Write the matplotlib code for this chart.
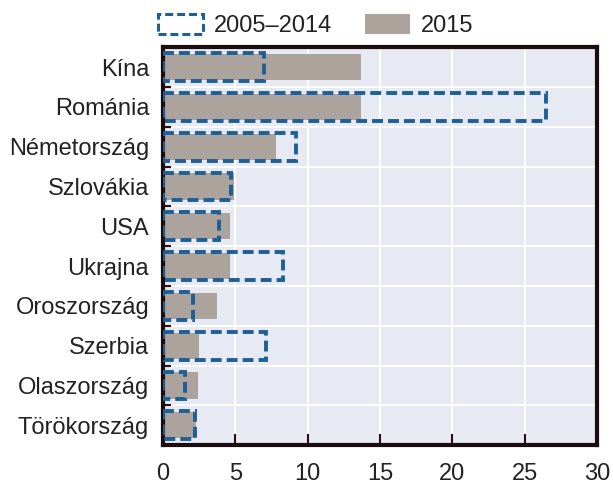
import matplotlib.pyplot as plt
from matplotlib.patches import Patch
import numpy as np

plt.rcParams['font.family'] = ['Liberation Sans', 'DejaVu Sans']

countries = ['Kína', 'Románia', 'Németország', 'Szlovákia', 'USA',
             'Ukrajna', 'Oroszország', 'Szerbia', 'Olaszország', 'Törökország']
val_2015 = [13.7, 13.7, 7.8, 4.9, 4.6, 4.6, 3.7, 2.5, 2.4, 2.3]
val_0514 = [7.0, 26.5, 9.2, 4.7, 3.9, 8.3, 2.1, 7.1, 1.5, 2.2]
xticks = [0, 5, 10, 15, 20, 25, 30]

blue = '#1d5f96'
grey = '#aca39d'
txt = '#222222'
fs = 17

fig = plt.figure(figsize=(6.13, 4.86), dpi=100)
ax = fig.add_axes([0.266, 0.084, 0.708, 0.819])
ax.set_facecolor('#e7eaf3')

y = np.arange(len(countries))
ax.barh(y, val_2015, height=0.66, color=grey, zorder=2)
ax.barh(y, val_0514, height=0.7, fill=False, edgecolor=blue,
        linewidth=2.8, linestyle=(0, (2.8, 1.3)), zorder=3)

ax.set_xlim(0, 30)
ax.set_ylim(len(countries) - 0.5, -0.5)
ax.set_yticks(y)
ax.set_yticklabels(countries, fontsize=fs, color=txt)
ax.set_xticks(xticks)
ax.set_xticklabels([str(t) for t in xticks], fontsize=fs, color=txt)

# grid lines: vertical at ticks, horizontal between categories
for t in xticks[1:-1]:
    ax.axvline(t, color='white', linewidth=1.5, zorder=1)
for b in np.arange(0.5, len(countries) - 1, 1):
    ax.axhline(b, color='white', linewidth=1.5, zorder=1)

ax.tick_params(axis='y', length=0, pad=10)
ax.tick_params(axis='x', direction='in', length=8, width=1.5, color='#2a1010', pad=13)
# small inner ticks on the left side between categories
ax.set_yticks(np.arange(0.5, len(countries) - 1, 1), minor=True)
ax.tick_params(axis='y', which='minor', direction='in', length=6, width=1.5, color='#2a1010')

for s in ax.spines.values():
    s.set_color('#1c0c0c')
    s.set_linewidth(3)

handles = [Patch(facecolor='none', edgecolor=blue, linewidth=2.2, linestyle=(0, (2.6, 1.3))),
           Patch(facecolor=grey, edgecolor='none')]
leg = fig.legend(handles, ['2005–2014', '2015'], loc='upper center', bbox_to_anchor=(0.515, 1.015),
                 ncol=2, frameon=False, fontsize=fs, handlelength=1.9, handleheight=0.9,
                 columnspacing=1.4, handletextpad=0.45)
for t in leg.get_texts():
    t.set_color(txt)

fig.savefig('out.png', dpi=100)
